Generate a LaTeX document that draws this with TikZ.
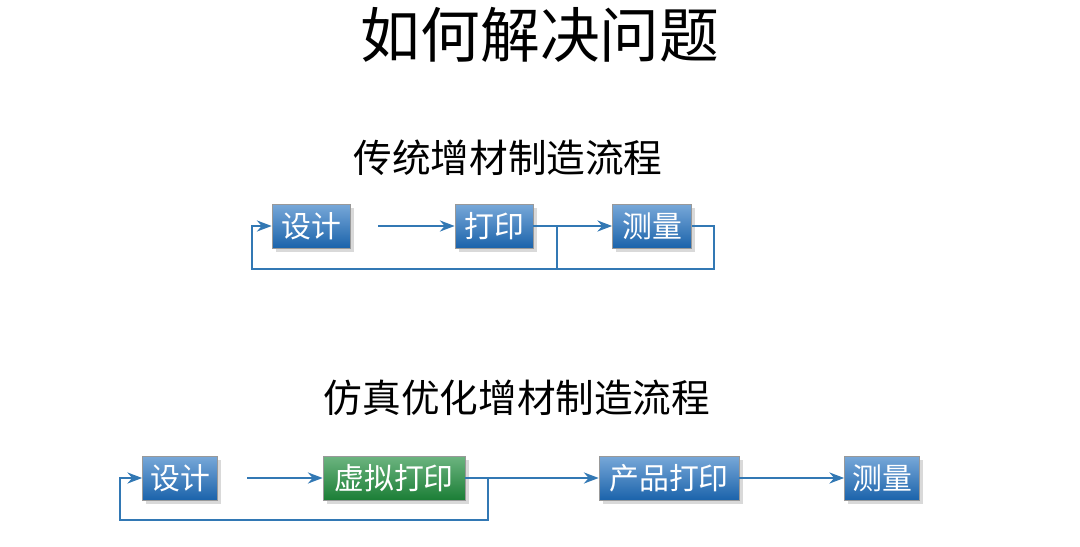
\documentclass[tikz,border=0pt]{standalone}
\usepackage{fontspec}
\newfontfamily\cjk{Noto Sans CJK SC}
\usetikzlibrary{arrows.meta,positioning,calc,shadows}
\definecolor{boxblue}{RGB}{30,110,190}
\definecolor{boxgreen}{RGB}{30,140,60}
\definecolor{linkblue}{RGB}{50,120,180}
\begin{document}
\begin{tikzpicture}[
    x=0.02cm, y=-0.02cm,
    font=\cjk,
    >=Stealth,
    box/.style={rectangle, draw=black!40, text=white, minimum height=0.88cm,
                inner xsep=3pt, font=\cjk\fontsize{17}{17}\selectfont,
                top color=boxblue!60, bottom color=boxblue!90!black,
                drop shadow={opacity=0.3}},
    gbox/.style={box, top color=boxgreen!65, bottom color=boxgreen!90!black},
    link/.style={draw=linkblue, line width=1.2pt},
    arrow/.style={link, ->}
]
\useasboundingbox (0,0) rectangle (1080,547);

%---- TITLES ----
\node (title) at (540,35) {\fontsize{34}{34}\selectfont 如何解决问题};
\node (sub1)  at (508,158) {\fontsize{22}{22}\selectfont 传统增材制造流程};
\node (sub2)  at (517,398) {\fontsize{22}{22}\selectfont 仿真优化增材制造流程};

%---- TRADITIONAL ----
\node (design1) [box, minimum width=1.56cm] at (311,226) {设计};
\node (print1)  [box, minimum width=1.56cm] at (494,226) {打印};
\node (meas1)   [box, minimum width=1.58cm] at (652,226) {测量};

\coordinate (s1) at (378,226);
\coordinate (j1) at (557,226);
\draw[arrow] (s1) -- (print1);
\draw[link] (print1) -- (j1);
\draw[arrow] (j1) -- (meas1);
\draw[link] (meas1.east) -- ++(22,0) |- (j1 |- 0,269);
\draw[arrow] (j1) -- (j1 |- 0,269) -| (252,226) -- (design1.west);

%---- SIMULATION ----
\node (design2) [box,  minimum width=1.5cm]  at (180,478) {设计};
\node (virt2)   [gbox, minimum width=2.84cm] at (394,478) {虚拟打印};
\node (prod2)   [box,  minimum width=2.8cm]  at (669,478) {产品打印};
\node (meas2)   [box,  minimum width=1.5cm]  at (882,478) {测量};

\coordinate (s2) at (247,478);
\coordinate (j2) at (488,478);
\draw[arrow] (s2) -- (virt2);
\draw[link] (virt2) -- (j2);
\draw[arrow] (j2) -- (prod2);
\draw[arrow] (prod2) -- (meas2);
\draw[arrow] (j2) -- (j2 |- 0,520) -| (120,478) -- (design2.west);
\end{tikzpicture}
\end{document}
